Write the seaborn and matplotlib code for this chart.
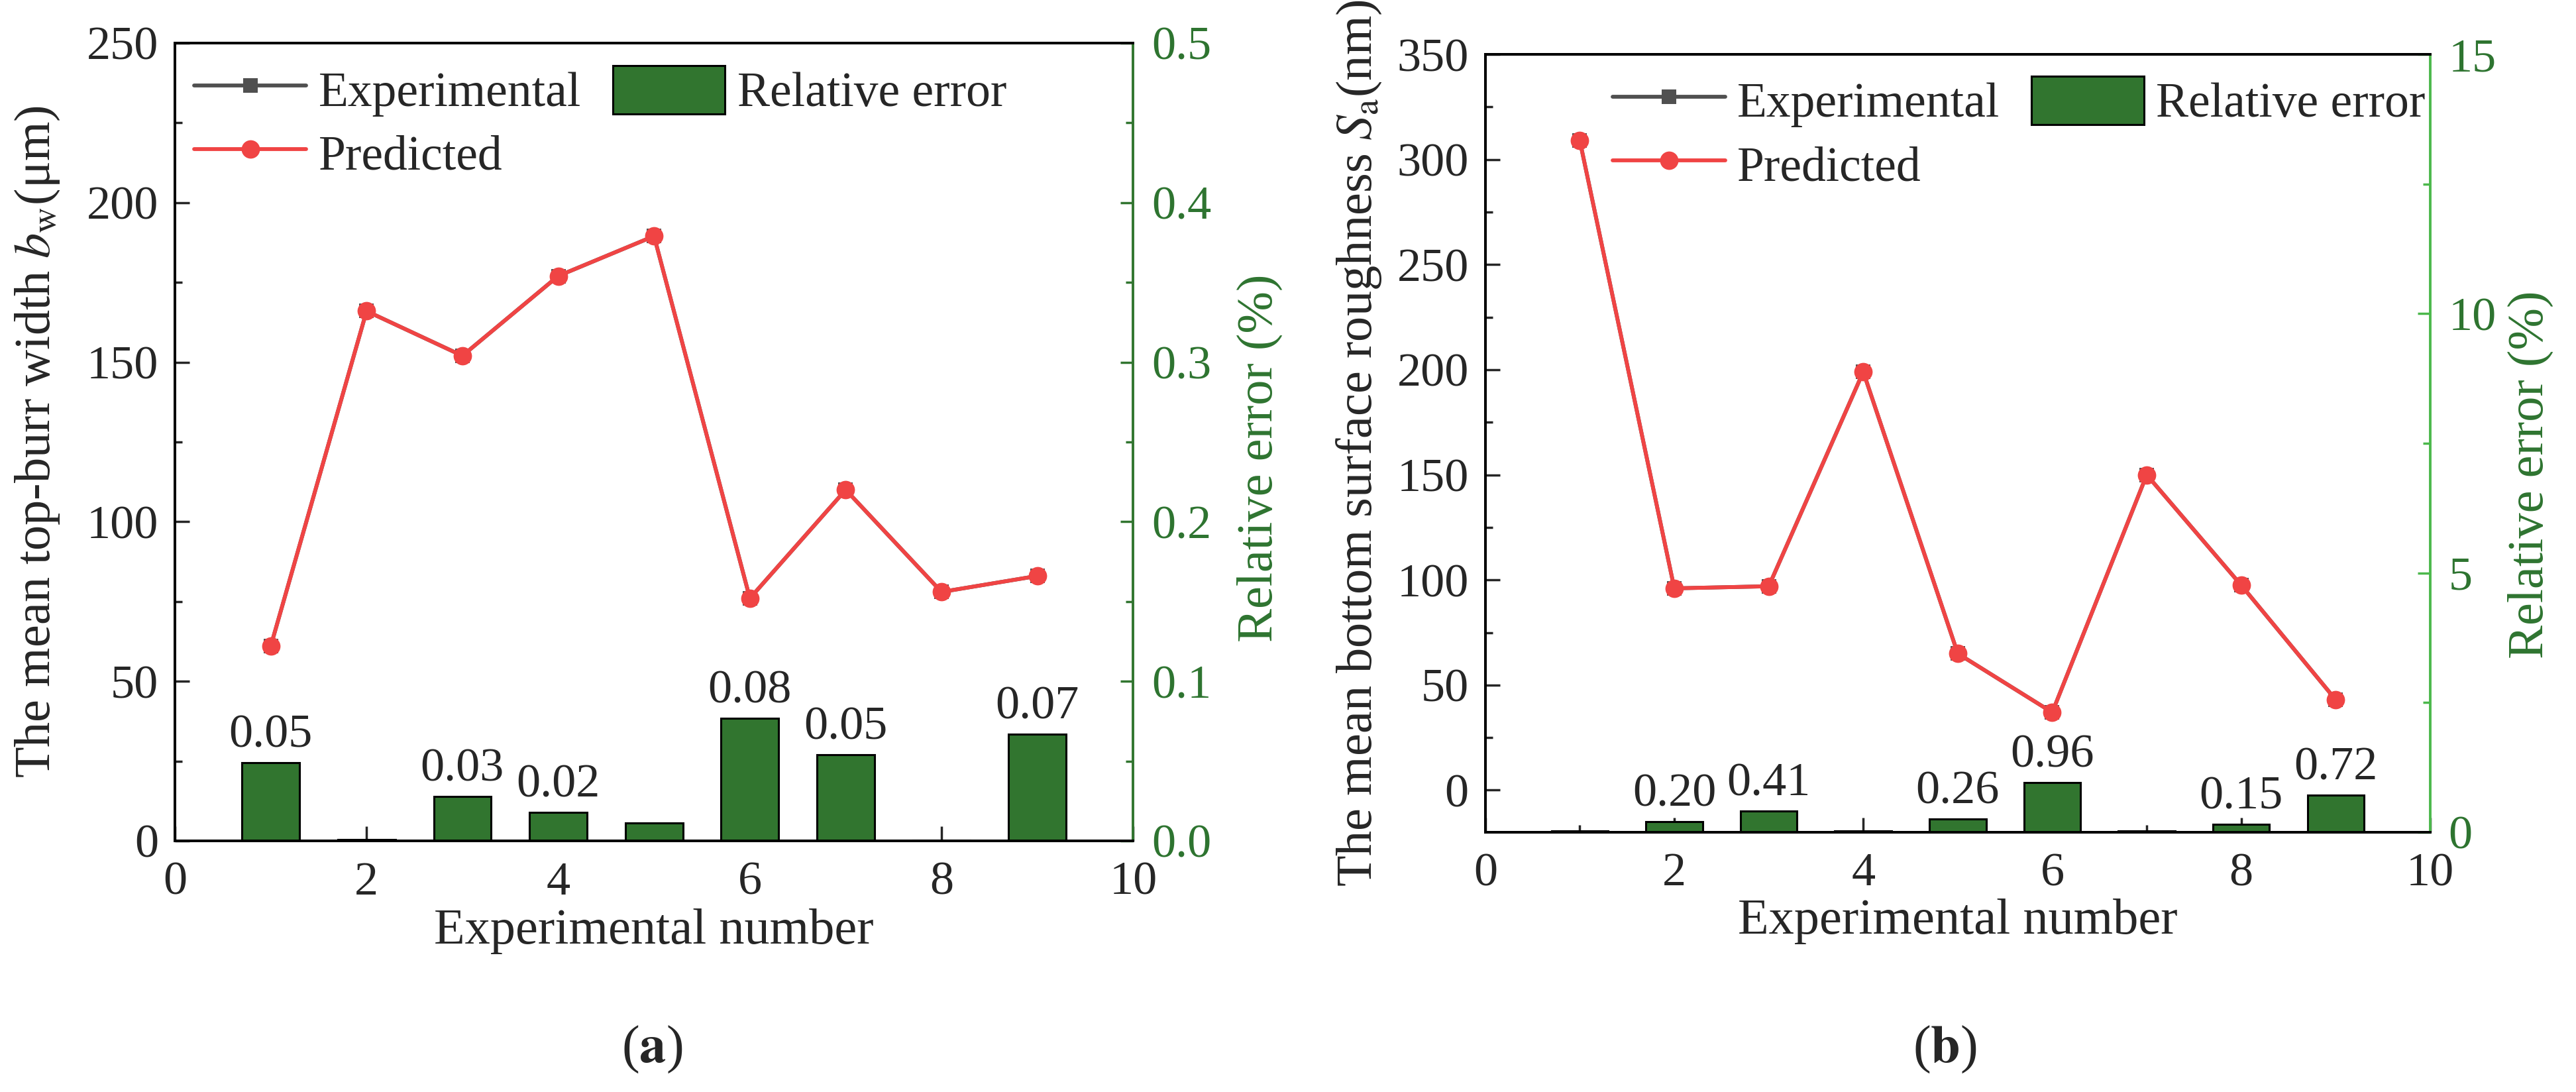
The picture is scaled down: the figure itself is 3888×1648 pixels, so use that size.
import numpy as np
import pandas as pd
import matplotlib
matplotlib.use("Agg")
import matplotlib.pyplot as plt
from matplotlib.ticker import MultipleLocator, FormatStrFormatter
import seaborn as sns

sns.set_style("ticks")
plt.rcParams['font.family'] = ['Liberation Serif', 'DejaVu Serif']
plt.rcParams['mathtext.fontset'] = 'stix'

# ---- data ----
exp_no = [1, 2, 3, 4, 5, 6, 7, 8, 9]

# (a) top-burr width (um)
burr_experimental = [61, 166, 152, 177, 189.5, 76, 110, 78, 83]
burr_predicted = [61, 166, 152, 177, 189.5, 76, 110, 78, 83]
burr_rel_error = [0.049, 0.001, 0.028, 0.018, 0.011, 0.077, 0.054, 0.0005, 0.067]
burr_bar_labels = ["0.05", "", "0.03", "0.02", "", "0.08", "0.05", "", "0.07"]

# (b) bottom surface roughness Sa (nm)
sa_experimental = [309, 96, 97, 199, 65, 37, 150, 97.5, 43]
sa_predicted = [309, 96, 97, 199, 65, 37, 150, 97.5, 43]
sa_rel_error = [0.03, 0.20, 0.41, 0.03, 0.26, 0.96, 0.03, 0.15, 0.72]
sa_bar_labels = ["", "0.20", "0.41", "", "0.26", "0.96", "", "0.15", "0.72"]

RED = "#F04444"
GRAY = "#505050"
BAR_GREEN = "#31752F"
TXT_GREEN = "#2E7430"
FS = 55


def panel(ax, exp_y, pred_y, err, labels, ylabel, ylim, ymajor, yminor,
          rlim, rmajor, rminor, rfmt, rspine, leg_anchor, ylab_x, rlab_x, rlab_y):
    df = pd.DataFrame({"n": exp_no, "exp": exp_y, "pred": pred_y, "err": err})
    sns.lineplot(data=df, x="n", y="exp", ax=ax, color=GRAY, lw=4.2, marker="s",
                 markersize=16, markeredgewidth=0, label="Experimental")
    sns.lineplot(data=df, x="n", y="pred", ax=ax, color=RED, lw=4.2, marker="o",
                 markersize=20, markeredgewidth=0, label="Predicted")
    ax2 = ax.twinx()
    sns.barplot(data=df, x="n", y="err", ax=ax2, native_scale=True, width=0.6,
                color=BAR_GREEN, saturation=1, edgecolor="black", linewidth=2.2,
                errorbar=None, label="Relative error")
    ax2.bar_label(ax2.containers[0], labels=labels, fontsize=52, padding=6)

    ax.set_xlim(0, 10)
    ax.set_ylim(*ylim)
    ax2.set_ylim(*rlim)
    ax.xaxis.set_major_locator(MultipleLocator(2))
    ax.xaxis.set_minor_locator(MultipleLocator(1))
    ax.yaxis.set_major_locator(MultipleLocator(ymajor))
    ax.yaxis.set_minor_locator(MultipleLocator(yminor))
    ax2.yaxis.set_major_locator(MultipleLocator(rmajor))
    ax2.yaxis.set_minor_locator(MultipleLocator(rminor))
    ax2.yaxis.set_major_formatter(FormatStrFormatter(rfmt))

    ax.tick_params(axis="both", which="major", direction="in", length=16, width=2.5,
                   labelsize=52, pad=18, right=False, top=False)
    ax.tick_params(axis="both", which="minor", direction="in", length=8, width=2.5,
                   right=False, top=False)
    ax.tick_params(axis="x", pad=22)
    ax2.tick_params(axis="y", which="major", direction="in", length=14, width=2.5,
                    colors=rspine, labelcolor=TXT_GREEN, labelsize=52, pad=20)
    ax2.tick_params(axis="y", which="minor", direction="in", length=8, width=2.5,
                    colors=rspine)

    for a in (ax, ax2):
        for s in a.spines.values():
            s.set_linewidth(2.8)
            s.set_color("black")
    ax.spines["right"].set_visible(False)
    ax2.spines["right"].set_color(rspine)

    ax.set_xlabel("Experimental number", fontsize=FS)
    ax.xaxis.set_label_coords(0.5, -0.085)
    ax.set_ylabel(ylabel, fontsize=FS)
    ax.yaxis.set_label_coords(ylab_x, 0.5)
    ax2.set_ylabel("Relative error (%)", fontsize=FS, color=TXT_GREEN)
    ax2.yaxis.set_label_coords(rlab_x, rlab_y)

    h1, l1 = ax.get_legend_handles_labels()
    h2, l2 = ax2.get_legend_handles_labels()
    if ax.get_legend():
        ax.get_legend().remove()
    if ax2.get_legend():
        ax2.get_legend().remove()
    ax2.legend(h1 + h2[:1], l1 + l2[:1], ncol=2, loc="upper left",
               bbox_to_anchor=leg_anchor, frameon=False, fontsize=53,
               handlelength=2.3, handleheight=1.15, handletextpad=0.25,
               columnspacing=0.65, labelspacing=0.25, borderpad=0, borderaxespad=0)
    return ax2


fig = plt.figure(figsize=(38.88, 16.48), dpi=100)
axa = fig.add_axes([0.0679, 0.230, 0.372, 0.7306])
axb = fig.add_axes([0.5766, 0.2379, 0.3668, 0.7123])

panel(axa, burr_experimental, burr_predicted, burr_rel_error, burr_bar_labels,
      r"The mean top-burr width $b_{\rm w}$(μm)", (0, 250), 50, 25,
      (0, 0.5), 0.1, 0.05, "%.1f", BAR_GREEN, (0.02, 0.972), -0.118, 1.108, 0.48)
panel(axb, sa_experimental, sa_predicted, sa_rel_error, sa_bar_labels,
      r"The mean bottom surface roughness $S_{\rm a}$(nm)", (-20, 350), 50, 25,
      (0, 15), 5, 2.5, "%d", "#4CB84C", (0.135, 0.972), -0.108, 1.082, 0.46)

fig.text(0.253, 0.039, r"($\mathbf{a}$)", fontsize=58, ha="center", va="center")
fig.text(0.755, 0.039, r"($\mathbf{b}$)", fontsize=58, ha="center", va="center")

fig.savefig("out.png", dpi=100)
